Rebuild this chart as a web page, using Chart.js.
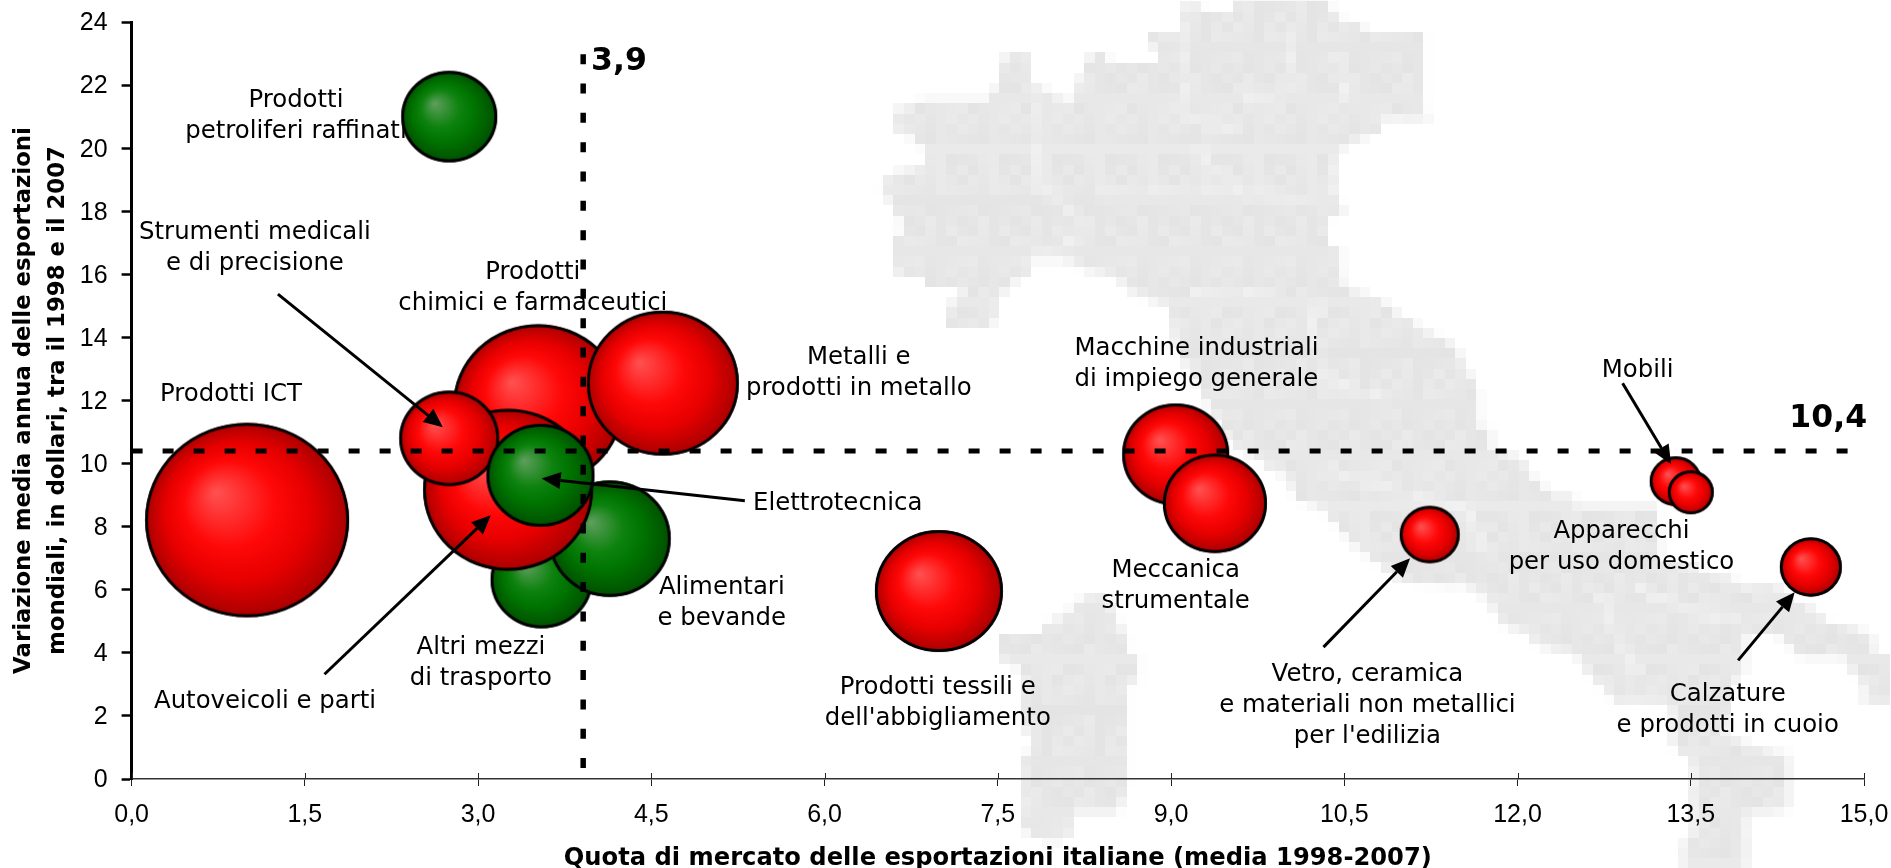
<!DOCTYPE html>
<html>
<head>
<meta charset="utf-8">
<title>Quota di mercato delle esportazioni italiane</title>
<script src="https://cdn.jsdelivr.net/npm/chart.js@4/dist/chart.umd.min.js"></script>
<style>
  html, body { margin: 0; padding: 0; background: #fff; }
  #wrap { width: 1891px; height: 868px; }
</style>
</head>
<body>
<div id="wrap"><canvas id="myChart"></canvas></div>
<script>
// drawing order matters, the later sectors cover the earlier ones
const sectors = ['Prodotti petroliferi raffinati', 'Prodotti ICT', 'Prodotti chimici e farmaceutici', 'Altri mezzi di trasporto',
  'Alimentari e bevande', 'Metalli e prodotti in metallo', 'Autoveicoli e parti', 'Strumenti medicali e di precisione',
  'Elettrotecnica', 'Prodotti tessili e dell\'abbigliamento', 'Macchine industriali di impiego generale', 'Meccanica strumentale',
  'Vetro, ceramica e materiali non metallici per l\'edilizia', 'Mobili', 'Apparecchi per uso domestico', 'Calzature e prodotti in cuoio'];
const marketShare = [2.75, 1.0, 3.52, 3.55, 4.14, 4.6, 3.26, 2.75, 3.54, 6.99, 9.04, 9.38, 11.24, 13.37, 13.5, 14.54];
const exportGrowth = [21.0, 8.21, 11.85, 6.32, 7.62, 12.55, 9.17, 10.8, 9.63, 5.96, 10.29, 8.74, 7.75, 9.44, 9.09, 6.72];
const bubbleSize = [48, 102, 85, 51, 61, 76, 85, 50, 54, 64, 53.5, 52, 30, 26, 23, 31];
const sectorGroup = ['g', 'r', 'r', 'g', 'g', 'r', 'r', 'r', 'g', 'r', 'r', 'r', 'r', 'r', 'r', 'r'];

const avgShare = 3.91;
const avgGrowth = 10.4;
const xTicks = [0, 1.5, 3, 4.5, 6, 7.5, 9, 10.5, 12, 13.5, 15];
const yTicks = [0, 2, 4, 6, 8, 10, 12, 14, 16, 18, 20, 22, 24];

// callouts, in data units: [x, y of first line, lines]
const labels = [
  [1.423, 21.56, ['Prodotti', 'petroliferi raffinati']],
  [1.068, 17.40, ['Strumenti medicali', 'e di precisione']],
  [3.474, 16.13, ['Prodotti', 'chimici e farmaceutici']],
  [0.860, 12.26, ['Prodotti ICT']],
  [6.296, 13.41, ['Metalli e', 'prodotti in metallo']],
  [9.22, 13.70, ['Macchine industriali', 'di impiego generale']],
  [13.04, 13.00, ['Mobili']],
  [12.90, 7.92, ['Apparecchi', 'per uso domestico']],
  [5.11, 6.14, ['Alimentari', 'e bevande']],
  [3.024, 4.24, ['Altri mezzi', 'di trasporto']],
  [1.155, 2.50, ['Autoveicoli e parti']],
  [6.114, 8.78, ['Elettrotecnica']],
  [9.04, 6.68, ['Meccanica', 'strumentale']],
  [6.98, 2.97, ['Prodotti tessili e', 'dell\'abbigliamento']],
  [10.70, 3.38, ['Vetro, ceramica', 'e materiali non metallici', 'per l\'edilizia']],
  [13.82, 2.75, ['Calzature', 'e prodotti in cuoio']]
];
const refLabels = [
  [4.22, 22.73, '3,9'],
  [14.69, 11.41, '10,4']
];
// from x, from y, tip x, tip y
const arrows = [
  [1.267, 15.37, 2.695, 11.15],
  [1.67, 3.32, 3.11, 8.36],
  [5.31, 8.82, 3.55, 9.53],
  [12.91, 12.55, 13.33, 9.98],
  [10.32, 4.18, 11.07, 7.0],
  [13.91, 3.76, 14.40, 5.92]
];

// background map of Italy, in canvas pixels. Rasterised small so it stays blocky like the original picture
const mapMain = [[1233,0],[1330,0],[1330,12],[1340,12],[1340,22],[1362,22],[1362,32],[1424,32],[1424,110],[1434,120],[1381,120],[1381,132],[1351,142],[1335,157],
  [1335,200],[1348,208],[1328,217],[1328,247],[1341,250],[1341,283],[1351,290],[1383,300],[1393,313],[1413,320],[1423,330],[1447,340],[1457,350],[1468,370],[1478,390],
  [1478,427],[1490,428],[1490,450],[1522,457],[1532,477],[1543,487],[1553,497],[1575,497],[1575,507],[1657,507],[1660,563],[1703,567],[1703,575],[1733,575],[1733,585],
  [1777,585],[1800,603],[1820,613],[1830,623],[1852,625],[1873,637],[1873,653],[1891,655],[1891,703],[1863,703],[1863,683],[1852,673],[1843,657],[1800,657],[1788,643],
  [1777,633],[1745,633],[1745,673],[1733,683],[1725,737],[1747,743],[1778,753],[1788,753],[1788,810],[1767,812],[1747,812],[1747,868],[1683,868],[1683,842],[1693,832],
  [1693,762],[1682,753],[1672,743],[1672,703],[1618,703],[1607,693],[1587,673],[1575,653],[1533,643],[1533,633],[1500,623],[1490,603],[1480,593],[1468,585],[1403,582],
  [1373,560],[1350,543],[1340,530],[1330,517],[1318,507],[1297,500],[1287,477],[1267,467],[1257,457],[1233,447],[1172,340],[1170,308],[1148,300],[1127,290],[1117,278],
  [1085,270],[1063,260],[1030,260],[1030,278],[1020,278],[1010,288],[998,298],[998,317],[988,327],[947,327],[947,308],[957,298],[967,288],[925,288],[925,278],[903,278],
  [893,270],[893,240],[903,230],[903,220],[893,210],[893,200],[882,197],[882,180],[903,170],[925,168],[925,150],[913,140],[903,132],[893,130],[893,112],[923,102],[988,100],
  [990,92],[1000,82],[1000,62],[1010,53],[1030,53],[1030,82],[1052,92],[1063,102],[1073,100],[1075,82],[1085,72],[1085,62],[1095,52],[1107,52],[1107,62],[1158,62],[1158,52],
  [1148,42],[1150,32],[1182,32],[1182,3],[1202,3],[1202,12],[1233,12]];
const mapSardinia = [[1085,595],[1105,595],[1117,615],[1117,625],[1127,633],[1127,653],[1138,655],[1138,682],[1127,683],[1127,790],[1117,812],[1073,812],[1073,830],[1062,840],
  [1043,840],[1022,830],[1022,753],[1032,753],[1032,733],[1022,732],[1022,673],[1010,663],[999,662],[999,635],[1042,633],[1042,625],[1063,615],[1075,605]];
const mapBorders = [
  [[1037,100],[1037,190],[1062,200],[1078,225],[1073,243],[1030,255]],
  [[1183,33],[1183,113],[1213,127],[1240,127]],
  [[1197,143],[1213,167],[1247,197]],
  [[1097,195],[1247,195],[1327,205]],
  [[1292,33],[1292,70],[1280,93],[1247,97],[1247,107]],
  [[1337,53],[1347,110]],
  [[1190,293],[1280,293]],
  [[1320,300],[1310,330],[1325,380],[1385,400]],
  [[1330,470],[1390,490],[1470,510],[1490,560]],
  [[1600,590],[1620,640],[1640,680]],
  [[1630,585],[1690,610],[1740,620]]
];

const fmtTick = v => v.toFixed(1).replace('.', ',');

function drawMap(ctx) {
  const cellX = 10.6, cellY = 10.2, x0 = 872.1, y0 = -8.73;
  const low = document.createElement('canvas');
  low.width = Math.ceil((1891 - x0) / cellX);
  low.height = Math.ceil((868 - y0) / cellY);
  const c = low.getContext('2d');
  c.save();
  c.scale(1 / cellX, 1 / cellY);
  c.translate(-x0, -y0);
  c.fillStyle = '#e7e7e7';
  [mapMain, mapSardinia].forEach(poly => {
    c.beginPath();
    poly.forEach((p, i) => i ? c.lineTo(p[0], p[1]) : c.moveTo(p[0], p[1]));
    c.closePath();
    c.fill();
  });
  c.strokeStyle = 'rgba(255,255,255,0.6)';
  c.lineWidth = 5;
  mapBorders.forEach(line => {
    c.beginPath();
    line.forEach((p, i) => i ? c.lineTo(p[0], p[1]) : c.moveTo(p[0], p[1]));
    c.stroke();
  });
  c.restore();
  // the old picture is a bit mottled, vary each tile a little
  const img = c.getImageData(0, 0, low.width, low.height);
  for (let j = 0; j < low.height; j++) {
    for (let i = 0; i < low.width; i++) {
      const k = (j * low.width + i) * 4;
      const d = ((i * 7 + j * 13 + (i * j) % 5) % 7) - 3;
      img.data[k] += d; img.data[k + 1] += d; img.data[k + 2] += d;
    }
  }
  c.putImageData(img, 0, 0);
  ctx.imageSmoothingEnabled = false;
  ctx.drawImage(low, x0, y0, low.width * cellX, low.height * cellY);
  ctx.imageSmoothingEnabled = true;
}

// the bubbles are slightly wider than tall and shaded, so each one gets its own sprite
const spriteCache = {};
function sphere(r, group) {
  const key = r + group;
  if (spriteCache[key]) return spriteCache[key];
  const rx = r, ry = r * 0.953;
  const cv = document.createElement('canvas');
  cv.width = Math.ceil(rx * 2) + 4;
  cv.height = Math.ceil(ry * 2) + 4;
  const c = cv.getContext('2d');
  c.translate(cv.width / 2, cv.height / 2);
  c.save();
  c.scale(rx, ry);
  const g = c.createRadialGradient(-0.31, -0.29, 0, 0, 0, 1);
  if (group === 'g') {
    g.addColorStop(0, '#5f9f5f');
    g.addColorStop(0.4, '#0f830f');
    g.addColorStop(0.65, '#007400');
    g.addColorStop(1, '#004f00');
  } else {
    g.addColorStop(0, '#ff5252');
    g.addColorStop(0.45, '#ff0808');
    g.addColorStop(0.7, '#e80000');
    g.addColorStop(1, '#a80000');
  }
  c.beginPath();
  c.arc(0, 0, 1, 0, Math.PI * 2);
  c.fillStyle = g;
  c.fill();
  c.restore();
  c.beginPath();
  c.ellipse(0, 0, rx - 1.4, ry - 1.4, 0, 0, Math.PI * 2);
  c.lineWidth = 3;
  c.strokeStyle = '#000';
  c.stroke();
  spriteCache[key] = cv;
  return cv;
}

const backdrop = {
  id: 'backdrop',
  beforeDraw(chart) {
    const ctx = chart.ctx;
    ctx.save();
    ctx.fillStyle = '#fff';
    ctx.fillRect(0, 0, chart.width, chart.height);
    drawMap(ctx);
    ctx.restore();
  },
  // the labels sit under the bubbles ("raffinati" is cut by its bubble)
  beforeDatasetsDraw(chart) {
    const ctx = chart.ctx, sx = chart.scales.x, sy = chart.scales.y;
    ctx.save();
    ctx.fillStyle = '#000';
    ctx.textAlign = 'center';
    ctx.textBaseline = 'middle';
    ctx.font = '24.4px "DejaVu Sans"';
    labels.forEach(l => {
      l[2].forEach((t, i) => ctx.fillText(t, sx.getPixelForValue(l[0]), sy.getPixelForValue(l[1]) + 2 + i * 31));
    });
    // upper half of the x ticks, they cross the axis
    ctx.strokeStyle = '#222';
    ctx.lineWidth = 1;
    xTicks.forEach(v => {
      const px = Math.round(sx.getPixelForValue(v)) + 0.5;
      ctx.beginPath();
      ctx.moveTo(px, sy.bottom - 6);
      ctx.lineTo(px, sy.bottom);
      ctx.stroke();
    });
    ctx.restore();
  },
  afterDatasetsDraw(chart) {
    const ctx = chart.ctx, sx = chart.scales.x, sy = chart.scales.y;
    ctx.save();
    ctx.strokeStyle = '#000';
    ctx.fillStyle = '#000';
    ctx.lineWidth = 3;
    arrows.forEach(a => {
      const x1 = sx.getPixelForValue(a[0]), y1 = sy.getPixelForValue(a[1]);
      const x2 = sx.getPixelForValue(a[2]), y2 = sy.getPixelForValue(a[3]);
      const ang = Math.atan2(y2 - y1, x2 - x1);
      const headLen = 19, headW = 8.5;
      ctx.beginPath();
      ctx.moveTo(x1, y1);
      ctx.lineTo(x2 - Math.cos(ang) * headLen, y2 - Math.sin(ang) * headLen);
      ctx.stroke();
      ctx.beginPath();
      ctx.moveTo(x2, y2);
      ctx.lineTo(x2 - Math.cos(ang) * headLen - Math.sin(ang) * headW, y2 - Math.sin(ang) * headLen + Math.cos(ang) * headW);
      ctx.lineTo(x2 - Math.cos(ang) * headLen + Math.sin(ang) * headW, y2 - Math.sin(ang) * headLen - Math.cos(ang) * headW);
      ctx.closePath();
      ctx.fill();
    });
    ctx.textAlign = 'center';
    ctx.textBaseline = 'middle';
    ctx.font = 'bold 31.5px "DejaVu Sans"';
    refLabels.forEach(l => ctx.fillText(l[2], sx.getPixelForValue(l[0]), sy.getPixelForValue(l[1])));
    ctx.restore();
  }
};

const ctx = document.getElementById('myChart').getContext('2d');
new Chart(ctx, {
  type: 'bubble',
  plugins: [backdrop],
  data: {
    datasets: [
      {
        label: 'Media quota',
        type: 'line',
        order: 0,
        data: [{ x: avgShare, y: 22.98 }, { x: avgShare, y: 0.3 }],
        borderColor: '#000',
        borderWidth: 5.5,
        borderDash: [10, 19.33],
        pointRadius: 0
      },
      {
        label: 'Media crescita',
        type: 'line',
        order: 0,
        data: [{ x: 0, y: avgGrowth }, { x: 14.88, y: avgGrowth }],
        borderColor: '#000',
        borderWidth: 5,
        borderDash: [11, 20],
        pointRadius: 0
      },
      {
        label: 'Settori',
        order: 1,
        clip: false,
        data: sectors.map((s, i) => ({ x: marketShare[i], y: exportGrowth[i], r: bubbleSize[i] })),
        pointStyle: c => sphere(bubbleSize[c.dataIndex], sectorGroup[c.dataIndex]),
        backgroundColor: 'rgba(0,0,0,0)',
        borderWidth: 0
      }
    ]
  },
  options: {
    responsive: true,
    maintainAspectRatio: false,
    animation: false,
    layout: { autoPadding: false, padding: { left: 0, top: 22, right: 27, bottom: 0 } },
    plugins: { legend: { display: false }, tooltip: { enabled: false } },
    scales: {
      x: {
        type: 'linear',
        min: 0,
        max: 15,
        afterBuildTicks: s => { s.ticks = xTicks.map(v => ({ value: v })); },
        afterFit: s => { s.height = 89; s.paddingRight = 0; s.paddingLeft = 0; },
        border: { color: '#333', width: 1.5 },
        grid: { drawOnChartArea: false, tickColor: '#222', tickWidth: 1, tickLength: 7 },
        ticks: { color: '#000', padding: 14, maxRotation: 0, font: { family: 'Liberation Sans', size: 25 }, callback: fmtTick },
        title: {
          display: true,
          text: 'Quota di mercato delle esportazioni italiane (media 1998-2007)',
          color: '#000',
          font: { family: 'DejaVu Sans', size: 24.2, weight: 'bold' },
          padding: { top: 0, bottom: -5 }
        }
      },
      y: {
        type: 'linear',
        min: 0,
        max: 24,
        afterBuildTicks: s => { s.ticks = yTicks.map(v => ({ value: v })); },
        afterFit: s => { s.width = 131.6; s.paddingTop = 0; s.paddingBottom = 0; },
        border: { color: '#000', width: 3 },
        grid: { drawOnChartArea: false, tickColor: '#000', tickWidth: 2.5, tickLength: 10 },
        ticks: { color: '#000', padding: 14, labelOffset: 1.5, font: { family: 'Liberation Sans', size: 25 } },
        title: {
          display: true,
          text: ['Variazione media annua delle esportazioni', 'mondiali, in dollari, tra il 1998 e il 2007'],
          color: '#000',
          font: { family: 'DejaVu Sans', size: 22.8, weight: 'bold', lineHeight: 1.45 },
          padding: { top: 8, bottom: 0 }
        }
      }
    }
  }
});
</script>
</body>
</html>
